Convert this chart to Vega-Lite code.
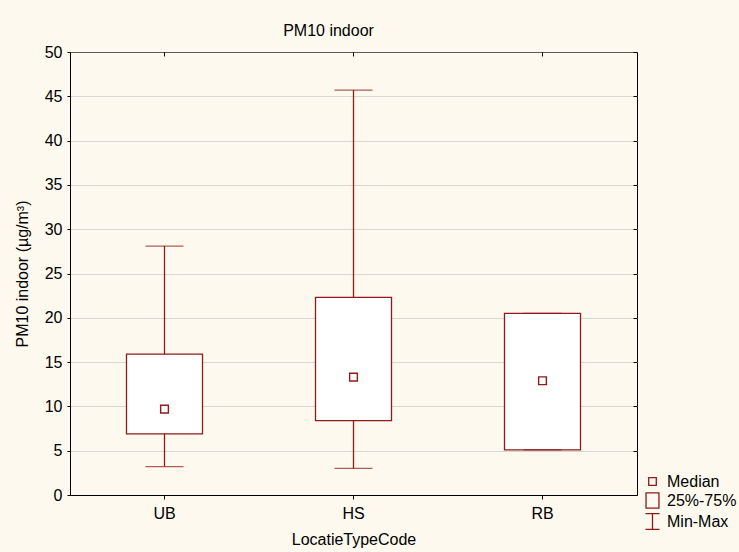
{
  "$schema": "https://vega.github.io/schema/vega-lite/v6.json",
  "autosize": {"type": "none"},
  "width": 567,
  "height": 443,
  "padding": {"left": 70, "top": 52, "right": 102, "bottom": 57},
  "background": "#FDF9EE",
  "title": {
    "text": "PM10 indoor",
    "font": "Liberation Sans",
    "fontSize": 16,
    "fontWeight": "normal",
    "color": "#000000",
    "anchor": "middle",
    "baseline": "alphabetic",
    "dx": -25,
    "offset": -8
  },
  "config": {
    "view": {"stroke": "#000000", "strokeWidth": 1, "fill": "#FFFFFF"},
    "axis": {
      "labelFont": "Liberation Sans",
      "titleFont": "Liberation Sans",
      "labelFontSize": 16,
      "titleFontSize": 16,
      "titleFontWeight": "normal",
      "labelColor": "#000000",
      "titleColor": "#000000",
      "domainColor": "#000000",
      "tickColor": "#000000"
    }
  },
  "datasets": {
    "stats": [
      {"code": "UB", "min": 3.2, "q1": 6.9, "median": 9.7, "q3": 15.9, "max": 28.1},
      {"code": "HS", "min": 3.0, "q1": 8.4, "median": 13.3, "q3": 22.3, "max": 45.7},
      {"code": "RB", "min": 5.1, "q1": 5.1, "median": 12.9, "q3": 20.5, "max": 20.5}
    ],
    "legend": [
      {"item": "Median"},
      {"item": "25%-75%"},
      {"item": "Min-Max"}
    ]
  },
  "resolve": {"axis": {"y": "independent", "x": "independent"}},
  "layer": [
    {
      "data": {"name": "stats"},
      "mark": {"type": "rule", "color": "#8E1B1B", "strokeWidth": 1.3},
      "encoding": {
        "x": {
          "field": "code",
          "type": "nominal",
          "sort": ["UB", "HS", "RB"],
          "scale": {"paddingInner": 0, "paddingOuter": 0},
          "axis": {
            "title": "LocatieTypeCode",
            "labelAngle": 0,
            "tickSize": 4,
            "labelPadding": 6,
            "titlePadding": 10,
            "grid": false
          }
        },
        "y": {
          "field": "min",
          "type": "quantitative",
          "scale": {"domain": [0, 50], "nice": false, "zero": true},
          "axis": {
            "title": "PM10 indoor (µg/m³)",
            "values": [0, 5, 10, 15, 20, 25, 30, 35, 40, 45, 50],
            "tickSize": 3,
            "labelPadding": 5,
            "titlePadding": 14,
            "grid": true,
            "gridColor": "#b5b5b5",
            "gridDash": [1, 1],
            "gridWidth": 1
          }
        },
        "y2": {"field": "max"}
      }
    },
    {
      "data": {"name": "stats"},
      "mark": {"type": "bar", "fill": "#FFFFFF", "stroke": "#8E1B1B", "strokeWidth": 1.3, "width": 76},
      "encoding": {
        "x": {"field": "code", "type": "nominal", "sort": ["UB", "HS", "RB"], "axis": null},
        "y": {"field": "q1", "type": "quantitative", "axis": null},
        "y2": {"field": "q3"}
      }
    },
    {
      "data": {"name": "stats"},
      "mark": {"type": "tick", "color": "#8E1B1B", "size": 38, "thickness": 1.3},
      "encoding": {
        "x": {"field": "code", "type": "nominal", "sort": ["UB", "HS", "RB"], "axis": null},
        "y": {"field": "min", "type": "quantitative", "axis": null}
      }
    },
    {
      "data": {"name": "stats"},
      "mark": {"type": "tick", "color": "#8E1B1B", "size": 38, "thickness": 1.3},
      "encoding": {
        "x": {"field": "code", "type": "nominal", "sort": ["UB", "HS", "RB"], "axis": null},
        "y": {"field": "max", "type": "quantitative", "axis": null}
      }
    },
    {
      "data": {"name": "stats"},
      "mark": {"type": "point", "shape": "square", "filled": false, "color": "#8E1B1B", "size": 60, "strokeWidth": 1.4, "opacity": 1},
      "encoding": {
        "x": {
          "field": "code",
          "type": "nominal",
          "sort": ["UB", "HS", "RB"],
          "axis": {"orient": "top", "title": null, "labels": false, "domain": false, "tickSize": -4, "grid": false}
        },
        "y": {
          "field": "median",
          "type": "quantitative",
          "axis": {
            "orient": "right",
            "title": null,
            "labels": false,
            "domain": false,
            "grid": false,
            "tickSize": -4,
            "values": [0, 5, 10, 15, 20, 25, 30, 35, 40, 45, 50]
          }
        }
      }
    },
    {
      "data": {"name": "legend"},
      "mark": {"type": "point", "filled": false, "opacity": 0},
      "encoding": {
        "shape": {
          "field": "item",
          "type": "nominal",
          "scale": {
            "domain": ["Median", "25%-75%", "Min-Max"],
            "range": [
              "M-0.4,-0.4H0.4V0.4H-0.4Z",
              "M-0.68,-0.8H0.68V0.8H-0.68Z",
              "M-0.74,-0.82H0.74M0,-0.82V0.82M-0.74,0.82H0.74"
            ]
          },
          "legend": {
            "title": null,
            "orient": "none",
            "legendX": 572,
            "legendY": 419,
            "padding": 0,
            "rowPadding": 0,
            "symbolSize": 361,
            "symbolOpacity": 1,
            "symbolStrokeColor": "#8E1B1B",
            "symbolFillColor": "transparent",
            "symbolStrokeWidth": 1.3,
            "labelFont": "Liberation Sans",
            "labelFontSize": 16,
            "labelColor": "#000000",
            "labelOffset": 4
          }
        }
      }
    }
  ]
}
